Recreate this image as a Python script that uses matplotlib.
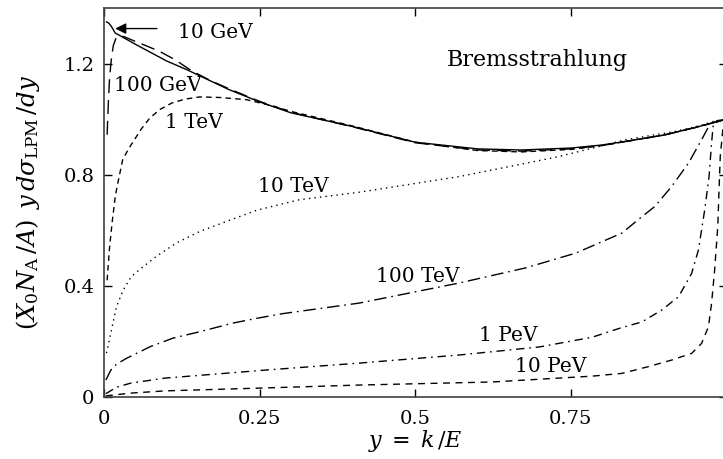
import matplotlib
matplotlib.use("Agg")
import matplotlib.pyplot as plt
import numpy as np

plt.rcParams['font.family'] = ['DejaVu Serif']
plt.rcParams['mathtext.fontset'] = 'dejavuserif'

# values (y = k/E, normalised cross section)
y_10gev = [0.004, 0.008, 0.012, 0.018, 0.026, 0.05, 0.1, 0.133, 0.2, 0.25, 0.3, 0.4,
           0.5, 0.6, 0.67, 0.75, 0.8, 0.832, 0.9, 0.95, 1.0]
s_10gev = [1.35, 1.345, 1.333, 1.31, 1.30, 1.27, 1.21, 1.178, 1.107, 1.062, 1.023, 0.973,
           0.917, 0.893, 0.889, 0.896, 0.907, 0.918, 0.943, 0.97, 1.0]

y_100gev = [0.005, 0.007, 0.009, 0.012, 0.015, 0.019, 0.025, 0.032, 0.05, 0.07,
            0.09, 0.114, 0.14, 0.17, 0.2, 0.25, 0.3, 0.4, 0.5, 0.6, 0.67, 0.75,
            0.8, 0.9, 0.95, 1.0]
s_100gev = [0.944, 1.06, 1.15, 1.22, 1.265, 1.29, 1.30, 1.297, 1.28, 1.262,
            1.243, 1.214, 1.175, 1.14, 1.11, 1.064, 1.025, 0.972, 0.915, 0.889, 0.885, 0.893,
            0.905, 0.943, 0.97, 1.0]

y_1tev = [0.005, 0.009, 0.013, 0.018, 0.021, 0.030, 0.04, 0.05, 0.06, 0.074, 0.09,
          0.109, 0.13, 0.154, 0.186, 0.229, 0.27, 0.3, 0.4, 0.5, 0.6, 0.67, 0.75,
          0.8, 0.9, 0.95, 1.0]
s_1tev = [0.42, 0.54, 0.627, 0.72, 0.757, 0.854, 0.895, 0.93, 0.965, 1.005, 1.035,
          1.058, 1.072, 1.08, 1.078, 1.07, 1.048, 1.028, 0.975, 0.917, 0.887, 0.882, 0.891,
          0.905, 0.943, 0.97, 1.0]

y_10tev = [0.004, 0.012, 0.020, 0.031, 0.044, 0.063, 0.084, 0.116, 0.154, 0.197,
           0.245, 0.314, 0.41, 0.57, 0.73, 0.838, 0.918, 0.96, 0.979, 1.0]
s_10tev = [0.158, 0.241, 0.325, 0.385, 0.434, 0.469, 0.506, 0.554, 0.596, 0.632,
           0.672, 0.71, 0.737, 0.793, 0.865, 0.926, 0.956, 0.978, 0.992, 1.0]

y_100tev = [0.003, 0.011, 0.020, 0.036, 0.074, 0.111, 0.154, 0.207, 0.245, 0.287,
            0.41, 0.57, 0.678, 0.758, 0.832, 0.858, 0.885, 0.912, 0.939, 0.96,
            0.973, 0.979, 1.0]
s_100tev = [0.061, 0.097, 0.118, 0.139, 0.181, 0.212, 0.235, 0.266, 0.283, 0.30,
            0.338, 0.41, 0.465, 0.518, 0.59, 0.638, 0.686, 0.758, 0.842, 0.926,
            0.98, 0.992, 1.0]

y_1pev = [0.003, 0.02, 0.043, 0.098, 0.26, 0.41, 0.57, 0.699, 0.784, 0.832, 0.864,
          0.896, 0.923, 0.944, 0.955, 0.965, 0.972, 0.976, 0.979, 1.0]
s_1pev = [0.012, 0.035, 0.05, 0.068, 0.097, 0.122, 0.151, 0.18, 0.215, 0.25, 0.27,
          0.313, 0.361, 0.445, 0.53, 0.674, 0.794, 0.914, 0.986, 1.0]

y_10pev = [0.003, 0.043, 0.098, 0.25, 0.41, 0.623, 0.784, 0.832, 0.874, 0.912,
           0.944, 0.96, 0.971, 0.976, 0.981, 0.986, 0.988, 0.99, 0.994, 1.0]
s_10pev = [0.004, 0.014, 0.022, 0.032, 0.043, 0.054, 0.075, 0.085, 0.109, 0.133,
           0.157, 0.193, 0.253, 0.337, 0.458, 0.614, 0.746, 0.866, 0.96, 1.0]

xticks = [0, 0.25, 0.5, 0.75, 1]
xtick_labels = ['0', '0.25', '0.5', '0.75', '1']
yticks = [0, 0.4, 0.8, 1.2]
ytick_labels = ['0', '0.4', '0.8', '1.2']

fig = plt.figure(figsize=(7.23, 4.59), dpi=100)
ax = fig.add_axes([104 / 723, 62 / 459, 622.5 / 723, 389 / 459])

lw = 1.0
ax.plot(y_10gev, s_10gev, color='k', lw=lw, ls='-')
ax.plot(y_100gev, s_100gev, color='k', lw=lw, ls=(0, (10, 5)))
ax.plot(y_1tev, s_1tev, color='k', lw=lw, ls=(0, (4, 3)))
ax.plot(y_10tev, s_10tev, color='k', lw=lw, ls=(0, (1, 3)))
ax.plot(y_100tev, s_100tev, color='k', lw=lw, ls=(0, (9, 3.5, 1.2, 3.5)))
ax.plot(y_1pev, s_1pev, color='k', lw=lw, ls=(0, (6, 3.5, 1.2, 3.5)))
ax.plot(y_10pev, s_10pev, color='k', lw=lw, ls=(0, (5, 4)))

fs = 14.5
ax.annotate('', xy=(0.018, 1.326), xytext=(0.085, 1.326),
            arrowprops=dict(arrowstyle='-|>', color='k', lw=1.0,
                            mutation_scale=16, shrinkA=0, shrinkB=0))
ax.text(0.119, 1.312, '10 GeV', fontsize=fs, va='center', ha='left')
ax.text(0.016, 1.12, '100 GeV', fontsize=fs, va='center', ha='left')
ax.text(0.098, 0.987, '1 TeV', fontsize=fs, va='center', ha='left')
ax.text(0.247, 0.757, '10 TeV', fontsize=fs, va='center', ha='left')
ax.text(0.437, 0.433, '100 TeV', fontsize=fs, va='center', ha='left')
ax.text(0.603, 0.223, '1 PeV', fontsize=fs, va='center', ha='left')
ax.text(0.66, 0.108, '10 PeV', fontsize=fs, va='center', ha='left')
ax.text(0.55, 1.214, 'Bremsstrahlung', fontsize=16, va='center', ha='left')

ax.set_xlim(0, 1)
ax.set_ylim(0, 1.4)
ax.set_xticks(xticks)
ax.set_xticklabels(xtick_labels, fontsize=14)
ax.set_yticks(yticks)
ax.set_yticklabels(ytick_labels, fontsize=14)
ax.tick_params(direction='in', top=True, right=True, length=6, width=1.0)
ax.tick_params(axis='x', pad=9)
ax.tick_params(axis='y', pad=7)
for sp in ax.spines.values():
    sp.set_linewidth(1.2)
    sp.set_color('0.25')

ax.set_xlabel(r'$y\; = \; k\,/E$', fontsize=16)
ax.xaxis.set_label_coords(0.5, -0.08)
ax.set_ylabel(r'$(X_0 N_{\rm A}\,/A)\;\,y\,d\sigma_{\rm LPM}\,/dy$', fontsize=17.5)
ax.yaxis.set_label_coords(-0.1, 0.5)

fig.savefig('out.png', dpi=100)
